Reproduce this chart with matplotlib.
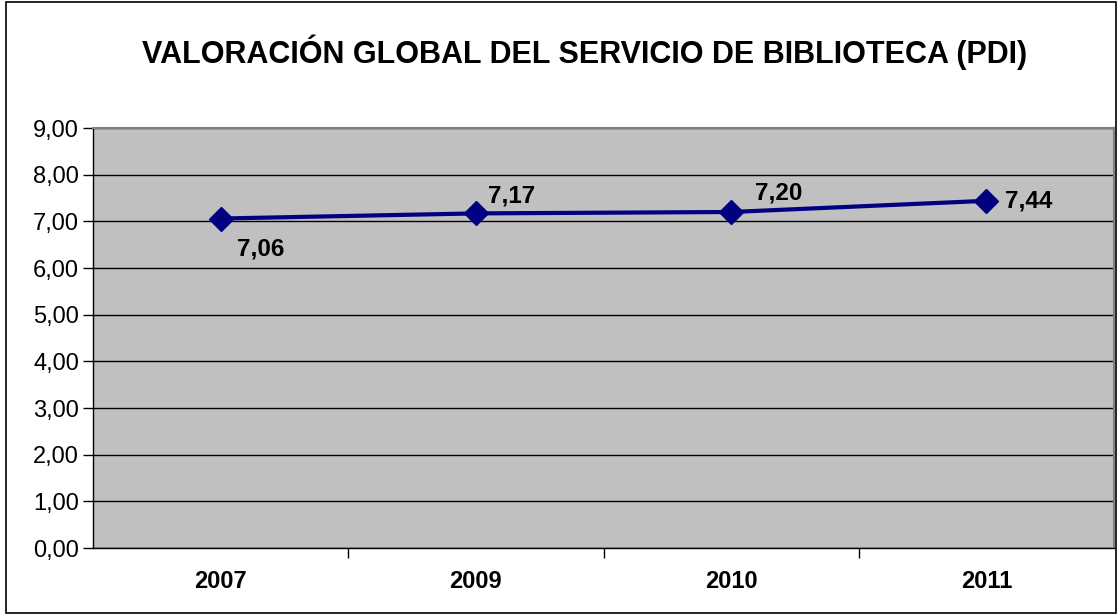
import matplotlib
matplotlib.use("Agg")
import matplotlib.pyplot as plt
from matplotlib.patches import Rectangle

plt.rcParams['font.family'] = ['Liberation Sans', 'DejaVu Sans']

years = ["2007", "2009", "2010", "2011"]
values = [7.06, 7.17, 7.20, 7.44]
value_labels = ["7,06", "7,17", "7,20", "7,44"]
yticks = [0, 1, 2, 3, 4, 5, 6, 7, 8, 9]
ytick_labels = ["0,00", "1,00", "2,00", "3,00", "4,00", "5,00", "6,00", "7,00", "8,00", "9,00"]
title = "VALORACIÓN GLOBAL DEL SERVICIO DE BIBLIOTECA (PDI)"

W, H = 1118, 615
fig = plt.figure(figsize=(W / 100, H / 100), dpi=100)
fig.patch.set_facecolor('white')
fig.add_artist(Rectangle((6 / W, 2 / H), (W - 8) / W, (H - 4) / H, transform=fig.transFigure,
                         fill=False, edgecolor='black', linewidth=1.2))

left, right, top, bottom = 93, 1114, 128, 548
ax = fig.add_axes([left / W, 1 - bottom / H, (right - left) / W, (bottom - top) / H])
ax.set_facecolor('#C0C0C0')

xs = list(range(len(years)))
ax.set_xlim(-0.5, len(years) - 0.5)
ax.set_ylim(0, 9)
ax.set_yticks(yticks)
ax.set_yticklabels(ytick_labels, fontsize=17)
ax.yaxis.grid(True, color='black', linewidth=1)
ax.set_axisbelow(True)
ax.tick_params(axis='y', direction='out', length=7, width=1, pad=3)

ax.set_xticks(xs)
ax.set_xticklabels(years, fontsize=17, fontweight='bold')
ax.tick_params(axis='x', which='major', length=0, pad=16)
ax.set_xticks([x + 0.5 for x in xs[:-1]], minor=True)
ax.tick_params(axis='x', which='minor', direction='out', length=7, width=1)

for s in ['top', 'right']:
    ax.spines[s].set_color('#808080')
    ax.spines[s].set_linewidth(1.5)
for s in ['left', 'bottom']:
    ax.spines[s].set_color('black')
    ax.spines[s].set_linewidth(1)

ax.plot(xs, values, color='#000080', linewidth=3, marker='D', markersize=12, zorder=3, clip_on=False)

offsets = [(16, -30), (12, 17), (24, 19), (19, 0)]
for x, v, lab, (dx, dy) in zip(xs, values, value_labels, offsets):
    ax.annotate(lab, (x, v), xytext=(dx, dy), textcoords='offset pixels',
                fontsize=17.5, fontweight='bold', ha='left', va='center')

fig.text(585 / W, 1 - 52 / H, title, fontsize=22, fontweight='bold', ha='center', va='center')

fig.savefig('out.png', dpi=100)
